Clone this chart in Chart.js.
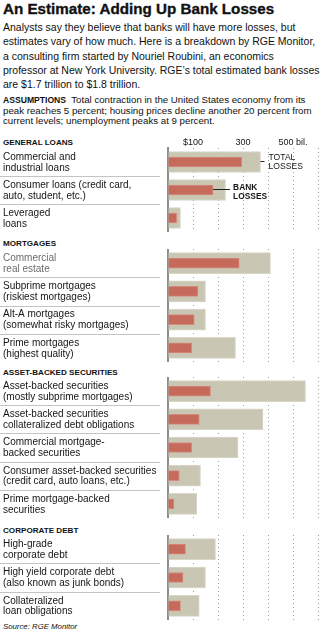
<!DOCTYPE html>
<html>
<head>
<meta charset="utf-8">
<script src="https://cdn.jsdelivr.net/npm/chart.js@4.4.1/dist/chart.umd.min.js"></script>
<style>
  html, body { margin: 0; padding: 0; background: #fff; }
  #page { position: relative; width: 325px; height: 637px; overflow: hidden;
          font-family: "Liberation Sans", Arial, sans-serif; color: #111; }
  .t { position: absolute; left: 3px; white-space: nowrap; }
  .head { font-size: 8.1px; font-weight: bold; line-height: 10px; }
  canvas { position: absolute; left: 0; }
</style>
</head>
<body>
<div id="page">
  <div class="t" style="top:0px;font-size:15.2px;font-weight:bold;line-height:17px;-webkit-text-stroke:0.35px #111;">An Estimate: Adding Up Bank Losses</div>
  <div class="t" style="top:20px;font-size:10.5px;line-height:14.3px;">
    Analysts say they believe that banks will have more losses, but<br>
    estimates vary of how much. Here is a breakdown by RGE Monitor,<br>
    a consulting firm started by Nouriel Roubini, an economics<br>
    professor at New York University. RGE’s total estimated bank losses<br>
    are $1.7 trillion to $1.8 trillion.
  </div>
  <div class="t" style="top:94.8px;font-size:9.7px;line-height:10.8px;">
    <b style="font-size:8.6px;">ASSUMPTIONS</b>&nbsp; Total contraction in the United States economy from its<br>
    peak reaches 5 percent; housing prices decline another 20 percent from<br>
    current levels; unemployment peaks at 9 percent.
  </div>

  <div class="t head" style="top:137.7px;">GENERAL LOANS</div>
  <div class="t head" style="top:238.9px;">MORTGAGES</div>
  <div class="t head" style="top:367.9px;">ASSET-BACKED SECURITIES</div>
  <div class="t head" style="top:525.5px;">CORPORATE DEBT</div>

  <canvas id="general" width="325" height="98" style="top:134px;"></canvas>
  <canvas id="mortgages" width="325" height="113" style="top:249px;"></canvas>
  <canvas id="abs" width="325" height="141" style="top:377px;"></canvas>
  <canvas id="corporate" width="325" height="85" style="top:535px;"></canvas>

  <div class="t" style="top:621.6px;font-size:7.8px;line-height:10px;font-style:italic;">Source: RGE Monitor</div>
</div>

<script>
// Loss estimates in billions of dollars
const axisTickValues = [100, 300, 500];
const axisTickLabels = ['$100', '300', '500 bil.'];

const generalLabels = [
  ['Commercial and', 'industrial loans'],
  ['Consumer loans (credit card,', 'auto, student, etc.)'],
  ['Leveraged', 'loans']
];
const generalTotal = [370, 230, 50];
const generalBank  = [295, 180, 35];

const mortgageLabels = [
  ['Commercial', 'real estate'],
  ['Subprime mortgages', '(riskiest mortgages)'],
  ['Alt-A mortgages', '(somewhat risky mortgages)'],
  ['Prime mortgages', '(highest quality)']
];
const mortgageTotal = [410, 150, 150, 270];
const mortgageBank  = [285, 120, 105, 95];

const absLabels = [
  ['Asset-backed securities', '(mostly subprime mortgages)'],
  ['Asset-backed securities', 'collateralized debt obligations'],
  ['Commercial mortgage-', 'backed securities'],
  ['Consumer asset-backed securities', '(credit card, auto loans, etc.)'],
  ['Prime mortgage-backed', 'securities']
];
const absTotal = [550, 380, 280, 130, 115];
const absBank  = [170, 125, 95, 45, 24];

const corporateLabels = [
  ['High-grade', 'corporate debt'],
  ['High yield corporate debt', '(also known as junk bonds)'],
  ['Collateralized', 'loan obligations']
];
const corporateTotal = [190, 150, 125];
const corporateBank  = [70, 60, 50];

const FONT = '"Liberation Sans", Arial, sans-serif';
const BEIGE = '#c9c7b4', BEIGE_EDGE = '#d8d7c8';
const RED = '#c66a5b', RED_EDGE = '#d48c7f';
const INK = '#151515', MUTED = '#6c6c6c';

// thin rules between the row labels
const separators = {
  id: 'separators',
  afterDraw(chart) {
    const y = chart.scales.y, ctx = chart.ctx;
    ctx.save();
    ctx.strokeStyle = '#c4c4c4';
    ctx.lineWidth = 1;
    for (let i = 0; i < y.ticks.length - 1; i++) {
      const py = Math.round((y.getPixelForTick(i) + y.getPixelForTick(i + 1)) / 2) + 0.5;
      ctx.beginPath();
      ctx.moveTo(0, py);
      ctx.lineTo(160, py);
      ctx.stroke();
    }
    ctx.restore();
  }
};

// "TOTAL LOSSES" / "BANK LOSSES" key on the first two rows
const callouts = {
  id: 'callouts',
  afterDatasetsDraw(chart) {
    const x = chart.scales.x, y = chart.scales.y, ctx = chart.ctx;
    const t0 = x.getPixelForValue(generalTotal[0]);
    const c0 = y.getPixelForValue(0);
    const t1 = x.getPixelForValue(generalTotal[1]);
    const b1 = x.getPixelForValue(generalBank[1]);
    const c1 = y.getPixelForValue(1);
    ctx.save();
    ctx.strokeStyle = '#222';
    ctx.fillStyle = INK;
    ctx.lineWidth = 1;
    ctx.textAlign = 'left';
    ctx.textBaseline = 'alphabetic';

    const ly0 = Math.round(c0) - 0.5;
    ctx.beginPath(); ctx.moveTo(t0, ly0); ctx.lineTo(t0 + 4, ly0); ctx.stroke();
    ctx.font = '8.6px ' + FONT;
    ctx.fillText('TOTAL', t0 + 8, c0 - 2);
    ctx.fillText('LOSSES', t0 + 8, c0 + 7.3);

    const ly1 = Math.round(c1) - 0.5;
    ctx.beginPath(); ctx.moveTo(b1, ly1); ctx.lineTo(t1 + 4.5, ly1); ctx.stroke();
    ctx.font = 'bold 8.4px ' + FONT;
    ctx.fillText('BANK', t1 + 7.6, c1 + 0.2);
    ctx.fillText('LOSSES', t1 + 7.6, c1 + 9.3);
    ctx.restore();
  }
};

function section(id, labels, total, bank, opts) {
  const showAxis = !!opts.showAxis;
  const muted = opts.muted === undefined ? -1 : opts.muted;
  const plugins = [separators];
  if (opts.callouts) plugins.push(callouts);
  return new Chart(document.getElementById(id), {
    type: 'bar',
    data: {
      labels: labels,
      datasets: [
        { label: 'Bank losses', data: bank, backgroundColor: RED, borderColor: RED_EDGE,
          borderWidth: 1, barThickness: 10, grouped: false, order: 1 },
        { label: 'Total losses', data: total, backgroundColor: BEIGE, borderColor: BEIGE_EDGE,
          borderWidth: 1, barThickness: 21, grouped: false, order: 2 }
      ]
    },
    options: {
      indexAxis: 'y',
      responsive: false,
      animation: false,
      events: [],
      layout: { padding: { left: 3, right: 7, top: 0, bottom: 0 } },
      plugins: { legend: { display: false }, tooltip: { enabled: false } },
      scales: {
        x: {
          type: 'linear',
          position: showAxis ? 'top' : 'bottom',
          min: 0, max: 600,
          ticks: {
            display: showAxis, stepSize: 100, autoSkip: false, maxRotation: 0, padding: 0,
            color: INK, font: { family: FONT, size: 9 },
            callback: (v) => { const i = axisTickValues.indexOf(v); return i < 0 ? '' : axisTickLabels[i]; }
          },
          grid: { color: '#9c9c9c', lineWidth: 1, drawTicks: false },
          border: { display: false, dash: [1, 3] },
          afterFit: (s) => { s.height = showAxis ? 14 : 0; s.paddingLeft = 0; s.paddingRight = 0; }
        },
        y: {
          type: 'category',
          offset: true,
          grid: { display: false },
          border: { display: true, color: '#8c8c8c', width: 2 },
          ticks: {
            crossAlign: 'far', autoSkip: false, padding: 0, labelOffset: 0.5,
            color: (ctx) => ctx.index === muted ? MUTED : INK,
            font: { family: FONT, size: 10, lineHeight: 1.08 }
          },
          // rows fill the whole plot height; labels sit inside their own bands
          afterFit: (s) => { s.width = 165; s.paddingTop = 0; s.paddingBottom = 0; }
        }
      }
    },
    plugins: plugins
  });
}

section('general', generalLabels, generalTotal, generalBank, { showAxis: true, callouts: true });
section('mortgages', mortgageLabels, mortgageTotal, mortgageBank, { muted: 0 });
section('abs', absLabels, absTotal, absBank, {});
section('corporate', corporateLabels, corporateTotal, corporateBank, {});
</script>
</body>
</html>
